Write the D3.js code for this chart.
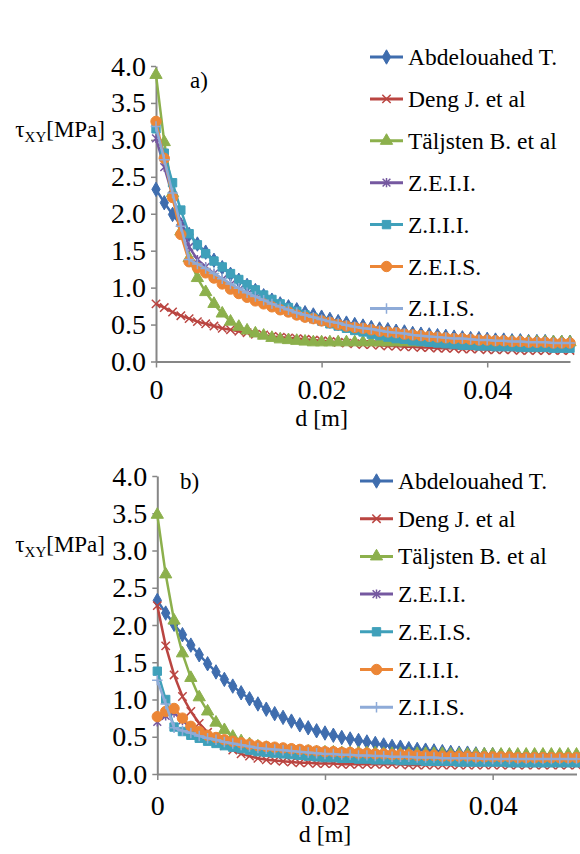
<!DOCTYPE html>
<html>
<head>
<meta charset="utf-8">
<script src="https://cdn.jsdelivr.net/npm/d3@7"></script>
<style>
body { margin: 0; background: #fff; }
svg text { font-family: "Liberation Serif", "Times New Roman", serif; fill: #000; }
</style>
</head>
<body>
<svg id="chart" width="580" height="854" font-family="Liberation Serif"></svg>
<script>
// distance from the edge [m]
var dVals = [0, 0.001, 0.002, 0.003, 0.004, 0.005, 0.006, 0.007, 0.008, 0.009,
	0.010, 0.011, 0.012, 0.013, 0.014, 0.015, 0.016, 0.017, 0.018, 0.019,
	0.020, 0.021, 0.022, 0.023, 0.024, 0.025, 0.026, 0.027, 0.028, 0.029,
	0.030, 0.031, 0.032, 0.033, 0.034, 0.035, 0.036, 0.037, 0.038, 0.039,
	0.040, 0.041, 0.042, 0.043, 0.044, 0.045, 0.046, 0.047, 0.048, 0.049, 0.050];

var yTicks = [0, 0.5, 1.0, 1.5, 2.0, 2.5, 3.0, 3.5, 4.0];
var yTickLabels = ["0.0", "0.5", "1.0", "1.5", "2.0", "2.5", "3.0", "3.5", "4.0"];
var xTicks = [0, 0.02, 0.04];
var xTickLabels = ["0", "0.02", "0.04"];

// chart a)
var namesA = ["Abdelouahed T.", "Deng J. et al", "Täljsten B. et al", "Z.E.I.I.", "Z.I.I.I.", "Z.E.I.S.", "Z.I.I.S."];
var aAbdel = [2.33,2.15,1.99,1.85,1.72,1.59,1.48,1.37,1.27,1.18, 1.10,1.03,0.96,0.89,0.83,0.78,0.74,0.70,0.66,0.63,
	0.60,0.57,0.54,0.52,0.50,0.48,0.46,0.44,0.43,0.41, 0.40,0.38,0.37,0.36,0.35,0.34,0.33,0.32,0.31,0.31,
	0.30,0.29,0.29,0.28,0.28,0.27,0.27,0.27,0.26,0.26,0.26];
var aDeng = [0.78,0.73,0.67,0.62,0.58,0.54,0.51,0.48,0.45,0.43, 0.41,0.39,0.37,0.36,0.34,0.33,0.32,0.31,0.30,0.29,
	0.28,0.27,0.26,0.25,0.24,0.23,0.23,0.22,0.21,0.21, 0.20,0.20,0.19,0.19,0.18,0.18,0.18,0.17,0.17,0.17,
	0.16,0.16,0.16,0.16,0.15,0.15,0.15,0.15,0.15,0.15,0.15];
var aTalj = [3.88,2.97,2.28,1.76,1.40,1.13,0.94,0.78,0.65,0.54, 0.47,0.42,0.38,0.35,0.32,0.30,0.29,0.28,0.27,0.26,
	0.26,0.26,0.26,0.26,0.26,0.26,0.26,0.26,0.26,0.26, 0.26,0.26,0.26,0.26,0.26,0.26,0.26,0.26,0.26,0.26,
	0.26,0.26,0.26,0.26,0.26,0.26,0.26,0.26,0.26,0.26,0.26];
var aZEII = [3.02,2.63,2.25,1.88,1.55,1.38,1.28,1.19,1.11,1.04, 0.97,0.91,0.85,0.80,0.75,0.71,0.67,0.63,0.60,0.57,
	0.54,0.51,0.48,0.46,0.44,0.42,0.40,0.39,0.37,0.36, 0.35,0.33,0.32,0.31,0.30,0.29,0.29,0.28,0.27,0.27,
	0.26,0.26,0.25,0.25,0.25,0.24,0.24,0.24,0.23,0.23,0.23];
var aZIII = [3.15,2.82,2.42,2.05,1.73,1.58,1.46,1.36,1.28,1.19, 1.11,1.04,0.97,0.90,0.84,0.78,0.73,0.68,0.63,0.59,
	0.55,0.51,0.48,0.45,0.42,0.40,0.37,0.35,0.33,0.31, 0.30,0.28,0.27,0.26,0.25,0.24,0.23,0.22,0.22,0.21,
	0.21,0.20,0.20,0.20,0.19,0.19,0.19,0.19,0.18,0.18,0.18];
var aZEIS = [3.25,2.75,2.22,1.72,1.35,1.27,1.20,1.13,1.05,0.98, 0.92,0.87,0.82,0.78,0.74,0.70,0.67,0.63,0.60,0.58,
	0.55,0.53,0.50,0.48,0.46,0.45,0.43,0.41,0.40,0.39, 0.37,0.36,0.35,0.34,0.33,0.32,0.31,0.31,0.30,0.29,
	0.29,0.28,0.28,0.27,0.27,0.26,0.26,0.26,0.25,0.25,0.25];
var aZIIS = [3.18,2.73,2.28,1.83,1.38,1.32,1.26,1.19,1.12,1.05, 0.99,0.93,0.88,0.83,0.78,0.74,0.70,0.66,0.63,0.60,
	0.57,0.54,0.52,0.49,0.47,0.45,0.44,0.42,0.40,0.39, 0.38,0.36,0.35,0.34,0.33,0.32,0.31,0.31,0.30,0.29,
	0.29,0.28,0.28,0.27,0.27,0.26,0.26,0.26,0.25,0.25,0.25];

// chart b)
var namesB = ["Abdelouahed T.", "Deng J. et al", "Täljsten B. et al", "Z.E.I.I.", "Z.E.I.S.", "Z.I.I.I.", "Z.I.I.S."];
var bAbdel = [2.33,2.16,2.01,1.87,1.73,1.60,1.48,1.37,1.27,1.18, 1.09,1.01,0.94,0.87,0.81,0.76,0.71,0.66,0.62,0.58,
	0.55,0.52,0.49,0.47,0.45,0.43,0.41,0.39,0.37,0.36, 0.34,0.33,0.32,0.31,0.30,0.29,0.28,0.28,0.27,0.26,
	0.26,0.25,0.25,0.24,0.24,0.24,0.23,0.23,0.23,0.22,0.22];
var bDeng = [2.26,1.72,1.33,1.04,0.84,0.68,0.56,0.46,0.38,0.32, 0.27,0.24,0.21,0.19,0.18,0.17,0.16,0.15,0.15,0.14,
	0.14,0.14,0.13,0.13,0.13,0.13,0.13,0.13,0.13,0.13, 0.12,0.12,0.12,0.12,0.12,0.12,0.12,0.12,0.12,0.12,
	0.12,0.12,0.12,0.12,0.12,0.12,0.12,0.12,0.12,0.12,0.12];
var bTalj = [3.48,2.68,2.06,1.62,1.29,1.03,0.84,0.69,0.59,0.50, 0.44,0.40,0.37,0.35,0.33,0.32,0.31,0.30,0.30,0.29,
	0.29,0.29,0.28,0.28,0.28,0.28,0.28,0.27,0.27,0.27, 0.27,0.27,0.27,0.27,0.27,0.26,0.26,0.26,0.26,0.26,
	0.26,0.26,0.26,0.26,0.26,0.26,0.26,0.26,0.26,0.26,0.26];
var bZEII = [0.70,0.78,0.82,0.72,0.62,0.55,0.50,0.47,0.44,0.42, 0.40,0.39,0.37,0.36,0.35,0.34,0.33,0.32,0.31,0.31,
	0.30,0.29,0.29,0.28,0.28,0.27,0.27,0.26,0.26,0.26, 0.25,0.25,0.25,0.24,0.24,0.24,0.24,0.23,0.23,0.23,
	0.23,0.23,0.22,0.22,0.22,0.22,0.22,0.22,0.21,0.21,0.21];
var bZEIS = [1.38,1.00,0.63,0.57,0.52,0.48,0.44,0.41,0.38,0.36, 0.34,0.32,0.30,0.29,0.28,0.27,0.26,0.25,0.24,0.23,
	0.22,0.22,0.21,0.21,0.20,0.20,0.19,0.19,0.19,0.18, 0.18,0.18,0.17,0.17,0.17,0.17,0.16,0.16,0.16,0.16,
	0.16,0.16,0.15,0.15,0.15,0.15,0.15,0.15,0.15,0.15,0.15];
var bZIII = [0.77,0.84,0.88,0.75,0.64,0.57,0.52,0.49,0.46,0.44, 0.42,0.40,0.38,0.37,0.36,0.35,0.34,0.33,0.32,0.31,
	0.30,0.30,0.29,0.29,0.28,0.28,0.27,0.27,0.26,0.26, 0.26,0.25,0.25,0.25,0.24,0.24,0.24,0.24,0.23,0.23,
	0.23,0.23,0.23,0.22,0.22,0.22,0.22,0.22,0.22,0.22,0.22];
var bZIIS = [1.26,0.94,0.62,0.58,0.55,0.51,0.48,0.46,0.43,0.41, 0.39,0.37,0.35,0.34,0.33,0.32,0.31,0.30,0.29,0.28,
	0.27,0.27,0.26,0.26,0.25,0.25,0.24,0.24,0.23,0.23, 0.23,0.22,0.22,0.22,0.21,0.21,0.21,0.21,0.21,0.20,
	0.20,0.20,0.20,0.20,0.20,0.20,0.20,0.20,0.20,0.20,0.20];

var serif = "'Liberation Serif', 'Times New Roman', serif";

// marker shapes that are only stroked
var symX = { draw: function(ctx, size) {
	var r = Math.sqrt(size) / 2;
	ctx.moveTo(-r, -r); ctx.lineTo(r, r);
	ctx.moveTo(-r, r); ctx.lineTo(r, -r);
}};
var symStar = { draw: function(ctx, size) {
	var r = Math.sqrt(size) / 2;
	ctx.moveTo(-r, -r); ctx.lineTo(r, r);
	ctx.moveTo(-r, r); ctx.lineTo(r, -r);
	ctx.moveTo(0, -r * 1.2); ctx.lineTo(0, r * 1.2);
}};
var symPlus = { draw: function(ctx, size) {
	var r = Math.sqrt(size) / 2;
	ctx.moveTo(-r, 0); ctx.lineTo(r, 0);
	ctx.moveTo(0, -r); ctx.lineTo(0, r);
}};

// series styles, same order in both charts
var styles = [
	{color: "#3F6DAE", type: d3.symbolDiamond, size: 60, fill: true},
	{color: "#BA4541", type: symX, size: 70, fill: false},
	{color: "#8CB04C", type: d3.symbolTriangle, size: 65, fill: true},
	{color: "#7558A0", type: symStar, size: 60, fill: false},
	{color: "#3FA0BA", type: d3.symbolSquare, size: 70, fill: true},
	{color: "#EC8636", type: d3.symbolCircle, size: 85, fill: true},
	{color: "#8EABD8", type: symPlus, size: 110, fill: false}
];

var svg = d3.select("#chart");

function drawChart(cfg) {
	var x = d3.scaleLinear().domain([0, 0.05]).range([cfg.left, cfg.right]);
	var y = d3.scaleLinear().domain([0, 4]).range([cfg.bottom, cfg.top]);
	var g = svg.append("g");

	// axes
	var yAxis = g.append("g")
		.attr("transform", "translate(" + cfg.left + ",0)")
		.call(d3.axisLeft(y).tickValues(yTicks)
			.tickFormat(function(d, i) { return yTickLabels[i]; })
			.tickSizeInner(5).tickSizeOuter(0).tickPadding(5));
	yAxis.selectAll("text").attr("font-size", 28).attr("dy", null).attr("y", 9);

	var xAxis = g.append("g")
		.attr("transform", "translate(0," + cfg.bottom + ")")
		.call(d3.axisBottom(x).tickValues(xTicks)
			.tickFormat(function(d, i) { return xTickLabels[i]; })
			.tickSizeInner(6).tickSizeOuter(0));
	xAxis.selectAll("text").attr("font-size", 28).attr("dy", null).attr("y", cfg.xLabOff);

	g.selectAll(".domain").attr("stroke", "#868686").attr("stroke-width", 2);
	g.selectAll(".tick line").attr("stroke", "#868686").attr("stroke-width", 1.5);

	// series
	var line = d3.line()
		.x(function(d, i) { return x(dVals[i]); })
		.y(function(d) { return y(d); });

	cfg.series.forEach(function(vals, k) {
		var st = styles[k];
		g.append("path")
			.attr("d", line(vals))
			.attr("fill", "none")
			.attr("stroke", st.color)
			.attr("stroke-width", 2.5);
		var sym = d3.symbol().type(st.type).size(st.size);
		g.selectAll(null).data(vals).enter().append("path")
			.attr("transform", function(d, i) { return "translate(" + x(dVals[i]) + "," + y(d) + ")"; })
			.attr("d", sym)
			.attr("fill", st.fill ? st.color : "none")
			.attr("stroke", st.color)
			.attr("stroke-width", st.fill ? 1 : 1.5);
	});

	// legend
	cfg.names.forEach(function(name, k) {
		var st = styles[k];
		var ly = cfg.legY + k * cfg.legStep;
		g.append("line")
			.attr("x1", cfg.legX).attr("x2", cfg.legX + 33)
			.attr("y1", ly).attr("y2", ly)
			.attr("stroke", st.color).attr("stroke-width", 3);
		g.append("path")
			.attr("transform", "translate(" + (cfg.legX + 16.5) + "," + ly + ")")
			.attr("d", d3.symbol().type(st.type).size(st.size))
			.attr("fill", st.fill ? st.color : "none")
			.attr("stroke", st.color)
			.attr("stroke-width", st.fill ? 1 : 1.5);
		g.append("text")
			.attr("x", cfg.legX + 38).attr("y", ly + 8)
			.attr("font-size", 23.5)
			.text(name);
	});

	// panel letter
	g.append("text").attr("x", cfg.tagX).attr("y", cfg.tagY)
		.attr("font-size", 23).text(cfg.tag);

	// axis titles
	var yt = g.append("text").attr("x", 105).attr("y", cfg.yTitleY)
		.attr("text-anchor", "end").attr("font-size", 23);
	yt.append("tspan").text("τ");
	yt.append("tspan").attr("font-size", 15).attr("dy", 5).text("XY");
	yt.append("tspan").attr("dy", -5).text("[MPa]");

	g.append("text")
		.attr("x", x(0.02))
		.attr("y", cfg.bottom + cfg.xTitleOff)
		.attr("text-anchor", "middle")
		.attr("font-size", 24)
		.text("d [m]");

	// Times-like face everywhere, as in the original figure
	g.selectAll("text").style("font-family", serif);
	g.selectAll("g").attr("font-family", null);
}

drawChart({
	left: 156, right: 570, top: 66, bottom: 361.5,
	series: [aAbdel, aDeng, aTalj, aZEII, aZIII, aZEIS, aZIIS],
	names: namesA,
	legX: 370, legY: 57, legStep: 41.9,
	tag: "a)", tagX: 190, tagY: 88,
	yTitleY: 137,
	xLabOff: 37, xTitleOff: 64
});

drawChart({
	left: 157.3, right: 576.5, top: 476, bottom: 774,
	series: [bAbdel, bDeng, bTalj, bZEII, bZEIS, bZIII, bZIIS],
	names: namesB,
	legX: 360, legY: 481, legStep: 37.7,
	tag: "b)", tagX: 180, tagY: 489,
	yTitleY: 552,
	xLabOff: 41, xTitleOff: 68
});
</script>
</body>
</html>
